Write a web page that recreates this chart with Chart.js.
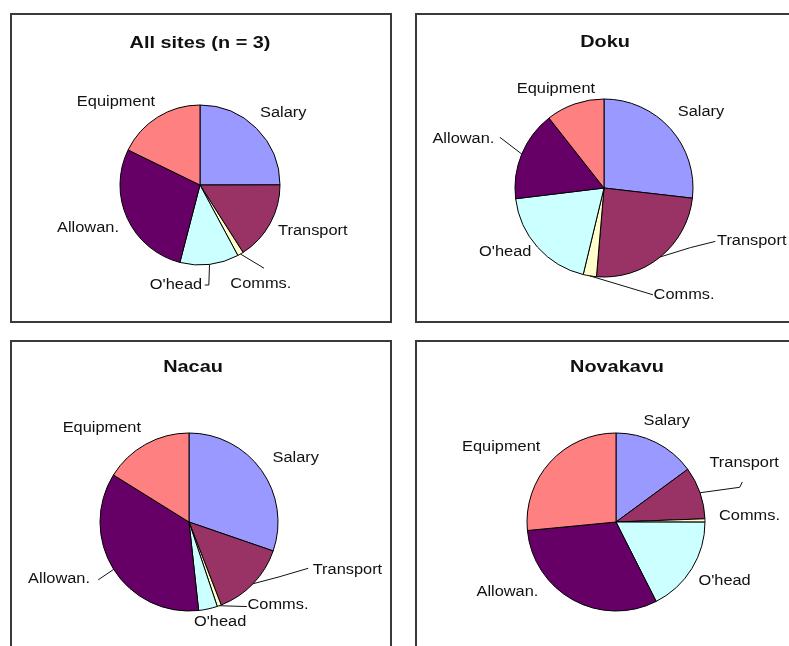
<!DOCTYPE html>
<html>
<head>
<meta charset="utf-8">
<script src="https://cdn.jsdelivr.net/npm/chart.js@4.4.0/dist/chart.umd.min.js"></script>
<style>
  body { margin: 0; background: #fff; width: 789px; height: 646px; overflow: hidden; position: relative; }
  .panel { position: absolute; width: 382px; height: 310px; box-sizing: border-box; border: 2px solid #3a3a3a; overflow: hidden; background: #fff; }
  .panel canvas { position: absolute; left: 0; top: 0; }
</style>
</head>
<body>
<div class="panel" style="left:10px;top:13px"><canvas id="pie0" width="378" height="306"></canvas></div>
<div class="panel" style="left:415px;top:13px"><canvas id="pie1" width="378" height="306"></canvas></div>
<div class="panel" style="left:10px;top:340px"><canvas id="pie2" width="378" height="306"></canvas></div>
<div class="panel" style="left:415px;top:340px"><canvas id="pie3" width="378" height="306"></canvas></div>
<script>
// cost categories, clockwise from 12 o'clock
const categories = ["Salary", "Transport", "Comms.", "O'head", "Allowan.", "Equipment"];
const siteTitles = ["All sites (n = 3)", "Doku", "Nacau", "Novakavu"];
// percentage shares
const allSites = [25.0, 16.0, 1.2, 11.9, 28.2, 17.8];
const daku     = [26.8, 24.5, 2.4, 19.3, 16.3, 10.6];
const nacau    = [30.2, 13.8, 0.75, 3.4, 35.5, 16.1];
const navakavu = [14.9, 9.5, 0.6, 17.5, 30.9, 26.5];

const sliceColors = ["#9999ff", "#993366", "#ffffcc", "#ccffff", "#660066", "#ff8080"];

// layout of each panel: pie centre + radius, title position (canvas px)
const panels = [
  { values: allSites, cx: 188, cy: 170, r: 80, tx: 188, ty: 28 },
  { values: daku,     cx: 187, cy: 173, r: 89, tx: 188, ty: 27 },
  { values: nacau,    cx: 177, cy: 180, r: 89, tx: 181, ty: 25 },
  { values: navakavu, cx: 199, cy: 180, r: 89, tx: 200, ty: 25 }
];

// label spots relative to pie centre, in radius units; leader = extra points after the arc edge
const labelSpots = [
  [ {at:[1.04,-0.9]}, {at:[1.41,0.575]}, {at:[0.76,1.24], leader:[[0.8,1.04]]},
    {at:[-0.3,1.25], leader:[[0.11,1.25],[0.06,1.25]]}, {at:[-1.4,0.54]}, {at:[-1.05,-1.04]} ],
  [ {at:[1.09,-0.854]}, {at:[1.66,0.6], leader:[[0.97,0.67],[1.25,0.6]]}, {at:[0.9,1.2], leader:[[0.55,1.2]]},
    {at:[-1.11,0.72]}, {at:[-1.58,-0.55], leader:[[-1.17,-0.57]]}, {at:[-0.54,-1.11]} ],
  [ {at:[1.2,-0.72]}, {at:[1.78,0.54], leader:[[1.0,0.62],[1.34,0.52]]}, {at:[1.0,0.93], leader:[[0.65,0.95]]},
    {at:[0.35,1.12]}, {at:[-1.46,0.64], leader:[[-1.02,0.65]]}, {at:[-0.98,-1.06]} ],
  [ {at:[0.57,-1.13]}, {at:[1.44,-0.66], leader:[[1.39,-0.39],[1.42,-0.45]]}, {at:[1.5,-0.07]},
    {at:[1.22,0.67]}, {at:[-1.22,0.79]}, {at:[-1.29,-0.84]} ]
];

const STRETCH = 1.17;

function wideText(ctx, text, x, y) {
  ctx.save();
  ctx.translate(x, y);
  ctx.scale(STRETCH, 1);
  ctx.fillText(text, 0, 0);
  ctx.restore();
}

const pieLabels = {
  id: "pieLabels",
  afterDatasetsDraw(chart, args, opts) {
    const ctx = chart.ctx;
    const arcs = chart.getDatasetMeta(0).data;
    const spots = opts.spots;
    ctx.save();
    ctx.fillStyle = "#111";
    ctx.textAlign = "center";
    ctx.textBaseline = "middle";
    ctx.font = "bold 17px 'Liberation Sans', Arial, sans-serif";
    wideText(ctx, opts.title, opts.tx, opts.ty);

    ctx.font = "14px 'Liberation Sans', Arial, sans-serif";
    ctx.strokeStyle = "#111";
    ctx.lineWidth = 1;
    arcs.forEach((arc, i) => {
      const p = arc.getProps(["x", "y", "startAngle", "endAngle", "outerRadius"], true);
      const R = p.outerRadius;
      const mid = (p.startAngle + p.endAngle) / 2;
      const s = spots[i];
      if (s.leader) {
        ctx.beginPath();
        ctx.moveTo(p.x + R * Math.cos(mid), p.y + R * Math.sin(mid));
        s.leader.forEach(q => ctx.lineTo(p.x + q[0] * R, p.y + q[1] * R));
        ctx.stroke();
      }
      wideText(ctx, chart.data.labels[i], p.x + s.at[0] * R, p.y + s.at[1] * R);
    });
    ctx.restore();
  }
};

panels.forEach((pn, k) => {
  const cv = document.getElementById("pie" + k);
  const W = cv.width, H = cv.height;
  new Chart(cv, {
    type: "pie",
    data: {
      labels: categories,
      datasets: [{
        data: pn.values,
        backgroundColor: sliceColors,
        borderColor: "#000",
        borderWidth: 1,
        radius: pn.r
      }]
    },
    options: {
      responsive: false,
      animation: false,
      layout: {
        padding: { left: pn.cx - pn.r, top: pn.cy - pn.r, right: W - pn.cx - pn.r, bottom: H - pn.cy - pn.r }
      },
      plugins: {
        legend: { display: false },
        tooltip: { enabled: false },
        pieLabels: { spots: labelSpots[k], title: siteTitles[k], tx: pn.tx, ty: pn.ty }
      }
    },
    plugins: [pieLabels]
  });
});
</script>
</body>
</html>
